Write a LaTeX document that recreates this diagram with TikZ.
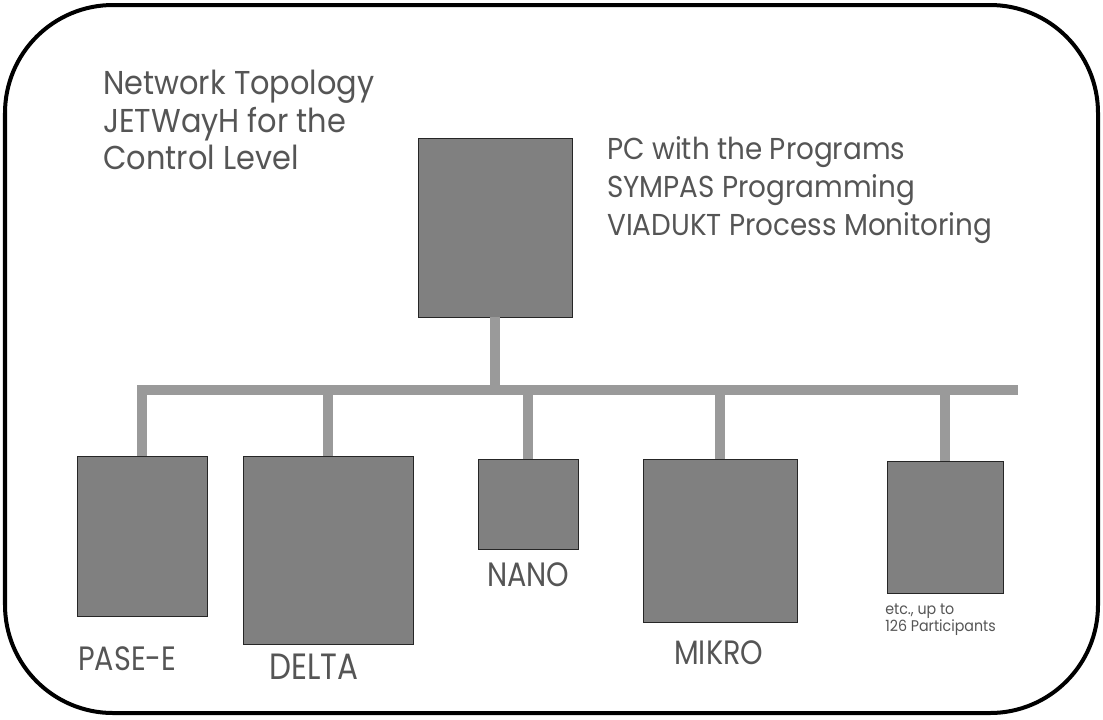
\documentclass[tikz,border=0pt]{standalone}
\usepackage{fontspec}
\setmainfont{Poppins}
\newfontfamily\outlinefont[FakeStretch=0.92]{Poppins}
\newfontfamily\narrowfont[FakeStretch=0.85]{Poppins}
\usepackage{xcolor}
\usetikzlibrary{calc}
\definecolor{unitgray}{HTML}{808080}
\definecolor{busgray}{HTML}{9A9A9A}
\definecolor{lettergray}{HTML}{555555}

\begin{document}
\begin{tikzpicture}[x=0.025cm, y=-0.025cm,
    unit/.style={draw=black!85, fill=unitgray, line width=0.7pt, anchor=north west, inner sep=0pt, outer sep=0pt},
    bus/.style={draw=busgray, line width=0.25cm},
    hollow/.style={text=lettergray, inner sep=0pt},
    caption/.style={hollow, anchor=base west, font=\narrowfont\fontsize{24}{30}\selectfont}]
  \useasboundingbox (0,0) rectangle (1103,719);
  \draw[line width=0.1cm, rounded corners=2.7cm] (5,5) rectangle (1098,713);

  \node[hollow, anchor=north west, align=left, font=\outlinefont\fontsize{23.5}{26.7}\selectfont] (title) at (103,70) {Network Topology\\JETWayH for the\\Control Level};
  \node[hollow, anchor=north west, align=left, font=\outlinefont\fontsize{21.5}{27}\selectfont] (pcnote) at (607,136) {PC with the Programs\\SYMPAS Programming\\VIADUKT Process Monitoring};

  \node[unit, minimum width=3.85cm, minimum height=4.475cm] (pc) at (418,138) {};
  \node[unit, minimum width=3.25cm, minimum height=4cm] (pase) at (77,456) {};
  \node[unit, minimum width=4.25cm, minimum height=4.7cm] (delta) at (243,456) {};
  \node[unit, minimum width=2.5cm, minimum height=2.25cm] (nano) at (478,459) {};
  \node[unit, minimum width=3.85cm, minimum height=4.075cm] (mikro) at (643,459) {};
  \node[unit, minimum width=2.9cm, minimum height=3.3cm] (more) at (887,461) {};

  \coordinate (busend) at (1018,390);
  \draw[bus] (pase.north) |- (busend);
  \draw[bus] (pc.south) -- (pc.south |- busend);
  \foreach \n in {delta,nano,mikro,more}
    \draw[bus] (\n.north) -- (\n.north |- busend);

  \node[caption] (pasename) at (78,670) {PASE-E};
  \node[caption, font=\narrowfont\fontsize{26}{32}\selectfont] (deltaname) at (269,679) {DELTA};
  \node[caption] (nanoname) at (487,586) {NANO};
  \node[caption] (mikroname) at (674,664) {MIKRO};
  \node[hollow, anchor=north west, align=left, font=\outlinefont\fontsize{11}{12.1}\selectfont] (morename) at (885,604) {etc., up to\\126 Participants};
\end{tikzpicture}
\end{document}
